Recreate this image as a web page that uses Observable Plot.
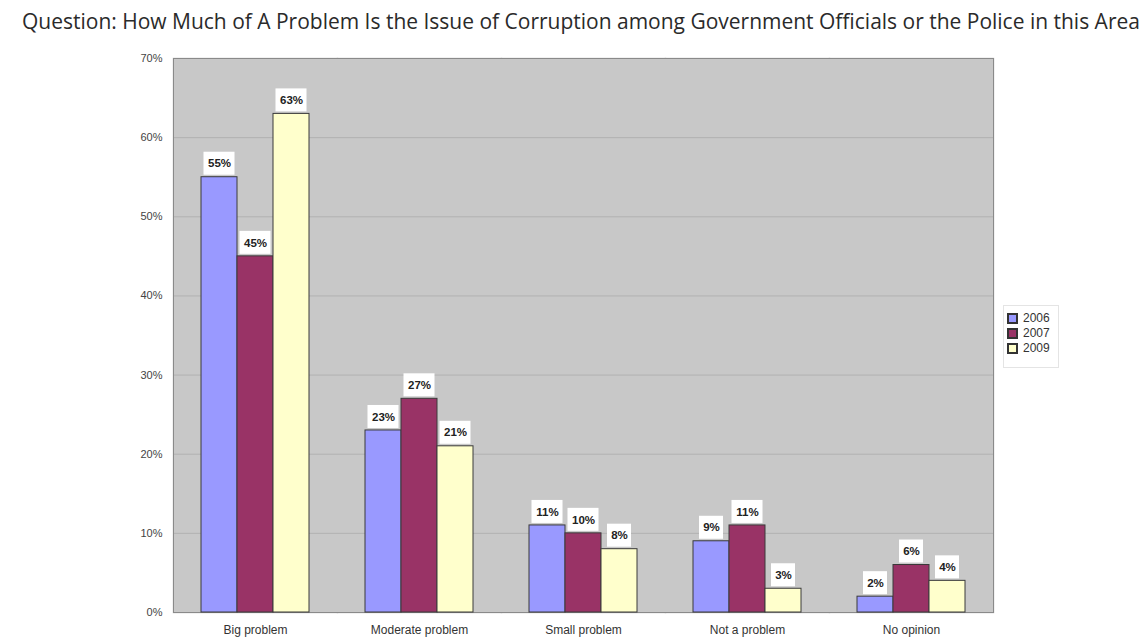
<!DOCTYPE html>
<html><head><meta charset="utf-8">
<script src="https://cdn.jsdelivr.net/npm/d3@7"></script>
<script src="https://cdn.jsdelivr.net/npm/@observablehq/plot@0.6"></script>
<style>
body{margin:0;background:#fff;}
#wrap{position:relative;width:1147px;height:640px;overflow:hidden;}
#title{position:absolute;left:22px;top:7px;white-space:nowrap;font-family:"Open Sans",sans-serif;font-size:19px;color:#2a2a2a;}
#chart{position:absolute;left:0;top:40px;}
#legend{position:absolute;left:1003px;top:305px;width:50px;padding:5px 0 5px 4px;border:1px solid #e4e4e4;background:#fff;}
#legend svg rect{stroke:#333;stroke-width:2px;}
</style></head>
<body>
<div id="wrap">
  <div id="title">Question: How Much of A Problem Is the Issue of Corruption among Government Officials or the Police in this Area</div>
  <div id="chart"></div>
  <div id="legend"></div>
</div>
<script>
const categories = ["Big problem","Moderate problem","Small problem","Not a problem","No opinion"];
const years = ["2006","2007","2009"];
const v2006 = [55,23,11,9,2];
const v2007 = [45,27,10,11,6];
const v2009 = [63,21,8,3,4];
const yTicks = [0,10,20,30,40,50,60,70];
const colors = ["#9999ff","#993366","#ffffcc"];

const series = [v2006, v2007, v2009];
const rows = [];
categories.forEach((c, i) => years.forEach((yr, j) => rows.push({category: c, year: yr, value: series[j][i]})));
const wide = rows.filter(d => d.value >= 10);
const narrow = rows.filter(d => d.value < 10);

// fit title width
const t = document.getElementById("title");
const target = 1118;
t.style.fontSize = (19 * target / t.scrollWidth) + "px";

const chart = Plot.plot({
  width: 1147, height: 600,
  marginLeft: 172, marginRight: 154, marginTop: 18, marginBottom: 28,
  fx: {domain: categories, padding: 0, label: null},
  x: {domain: years, paddingInner: 0, paddingOuter: 0.74, axis: null},
  y: {domain: [0, 70], label: null},
  color: {domain: years, range: colors},
  style: {fontFamily: "Liberation Sans, Arial, sans-serif", fontSize: "11px", color: "#333", background: "transparent"},
  marks: [
    Plot.frame({fill: "#c8c8c8", stroke: "#c8c8c8", strokeWidth: 1.5}),
    Plot.ruleY(yTicks.slice(1, -1), {stroke: "#b2b2b2"}),
    Plot.frame({stroke: "#8a8a8a", facet: "super"}),
    Plot.axisY({ticks: yTicks, tickFormat: d => d + "%", tickSize: 0, tickPadding: 11, fontSize: 11, fill: "#444", label: null}),
    Plot.axisFx({anchor: "bottom", tickSize: 0, tickPadding: 13, fontSize: 12, fill: "#333", label: null}),
    Plot.barY(rows, {fx: "category", x: "year", y: "value", fill: "year", stroke: "#3a3a3a", strokeWidth: 1}),
    Plot.barY(wide, {fx: "category", x: "year", y1: "value", y2: "value", fill: "white", insetTop: -25, insetBottom: 2, insetLeft: 2.5, insetRight: 2.5}),
    Plot.barY(narrow, {fx: "category", x: "year", y1: "value", y2: "value", fill: "white", insetTop: -25, insetBottom: 2, insetLeft: 6, insetRight: 6}),
    Plot.text(rows, {fx: "category", x: "year", y: "value", text: d => d.value + "%", dy: -13.5, fontWeight: "bold", fontSize: 11.5, fill: "#222"})
  ]
});
document.getElementById("chart").appendChild(chart);

const legend = Plot.legend({
  color: {domain: years, range: colors},
  columns: 1, swatchSize: 9,
  style: {fontFamily: "Liberation Sans, Arial, sans-serif", fontSize: "12px", color: "#333"}
});
document.getElementById("legend").appendChild(legend);
</script>
</body></html>
